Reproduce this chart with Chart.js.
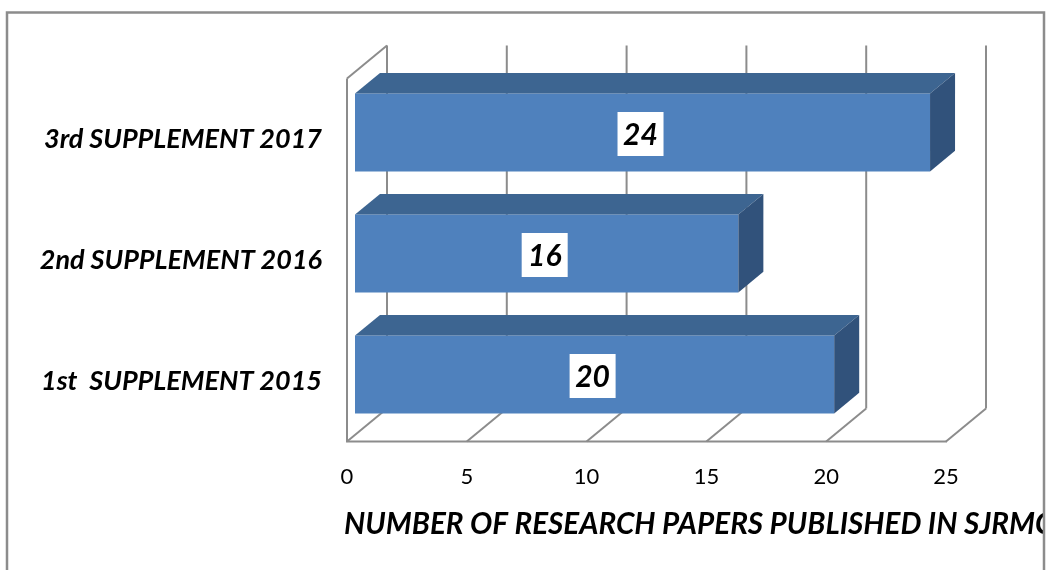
<!DOCTYPE html>
<html><head><meta charset="utf-8">
<script src="https://cdn.jsdelivr.net/npm/chart.js@4/dist/chart.umd.min.js"></script>
<style>html,body{margin:0;padding:0;background:#fff;overflow:hidden}</style>
</head><body>
<canvas id="c" width="1048" height="570" style="display:block"></canvas>
<script>
const categories = ['3rd SUPPLEMENT 2017', '2nd SUPPLEMENT 2016', '1st  SUPPLEMENT 2015'];
const papers = [24, 16, 20];
const tickValues = [0, 5, 10, 15, 20, 25];
const axisTitle = 'NUMBER OF RESEARCH PAPERS PUBLISHED IN SJRMC';

const FRONT = '#4F81BD', TOP = '#3D6591', SIDE = '#31527B', GRID = '#8C8C8C';
const D = {x: 40, y: -33};          // full depth of the 3D box
const BAR_FRONT = 0.2, BAR_BACK = 0.825; // depth positions (fraction of D)

function off(f) { return {x: D.x * (f - BAR_FRONT), y: D.y * (f - BAR_FRONT)}; }

const box3d = {
  id: 'box3d',
  beforeDatasetsDraw(chart) {
    const ctx = chart.ctx, xs = chart.scales.x, a = chart.chartArea;
    const fr = off(0), bk = off(1);
    ctx.save();
    ctx.strokeStyle = GRID; ctx.lineWidth = 2; ctx.lineCap = 'butt';
    const line = (x1, y1, x2, y2) => { ctx.beginPath(); ctx.moveTo(x1, y1); ctx.lineTo(x2, y2); ctx.stroke(); };
    tickValues.forEach(v => {
      const x = xs.getPixelForValue(v);
      line(x + bk.x, a.top + bk.y, x + bk.x, a.bottom + bk.y);       // back wall
      line(x + fr.x, a.bottom + fr.y, x + bk.x, a.bottom + bk.y);    // floor diagonal
    });
    const x0 = xs.getPixelForValue(tickValues[0]);
    const xN = xs.getPixelForValue(tickValues[tickValues.length - 1]);
    line(x0 + fr.x - 1, a.bottom + fr.y, xN + fr.x + 1, a.bottom + fr.y);   // front floor edge
    line(x0 + fr.x, a.bottom + fr.y, x0 + fr.x, a.top + fr.y);              // left wall front edge
    line(x0 + fr.x, a.top + fr.y, x0 + bk.x, a.top + bk.y);                 // left wall top edge
    ctx.restore();
  },
  afterDatasetsDraw(chart) {
    const ctx = chart.ctx, meta = chart.getDatasetMeta(0);
    const d = off(BAR_BACK);
    ctx.save();
    meta.data.forEach((bar, i) => {
      const p = bar.getProps(['x', 'y', 'base', 'height'], true);
      const t = p.y - p.height / 2, b = p.y + p.height / 2;
      ctx.fillStyle = TOP;
      ctx.beginPath();
      ctx.moveTo(p.base, t); ctx.lineTo(p.x, t); ctx.lineTo(p.x + d.x, t + d.y); ctx.lineTo(p.base + d.x, t + d.y);
      ctx.closePath(); ctx.fill();
      ctx.fillStyle = SIDE;
      ctx.beginPath();
      ctx.moveTo(p.x, t); ctx.lineTo(p.x + d.x, t + d.y); ctx.lineTo(p.x + d.x, b + d.y); ctx.lineTo(p.x, b);
      ctx.closePath(); ctx.fill();
      // value label
      const cx = (p.base + p.x) / 2 - 2, cy = p.y + 1.5;
      ctx.fillStyle = '#FFFFFF';
      ctx.fillRect(cx - 23, cy - 22, 46, 44);
      ctx.fillStyle = '#000';
      ctx.font = 'italic bold 30px Lato';
      ctx.textAlign = 'center'; ctx.textBaseline = 'middle';
      ctx.fillText(String(papers[i]), cx, cy + 1);
    });
    ctx.restore();
  },
  afterDraw(chart) {
    const ctx = chart.ctx;
    ctx.save();
    ctx.beginPath(); ctx.rect(0, 0, 1043, 570); ctx.clip();
    ctx.fillStyle = '#000';
    ctx.font = 'italic bold 29.6px Lato';
    ctx.textAlign = 'left'; ctx.textBaseline = 'middle';
    ctx.fillText(axisTitle, 344, 524);
    ctx.restore();
    ctx.save();
    ctx.strokeStyle = '#8C8C8C'; ctx.lineWidth = 2.5;
    ctx.beginPath();
    ctx.moveTo(7, 600); ctx.lineTo(7, 12.5); ctx.lineTo(1044, 12.5); ctx.lineTo(1044, 600);
    ctx.stroke();
    ctx.restore();
  }
};

new Chart(document.getElementById('c'), {
  type: 'bar',
  data: {
    labels: categories,
    datasets: [{
      data: papers,
      backgroundColor: FRONT,
      borderWidth: 0,
      categoryPercentage: 0.8,
      barPercentage: 0.805
    }]
  },
  options: {
    indexAxis: 'y',
    responsive: false,
    animation: false,
    events: [],
    layout: {padding: {top: 72, right: 94, left: 0, bottom: 0}},
    plugins: {legend: {display: false}, tooltip: {enabled: false}},
    scales: {
      x: {
        min: 0, max: 25,
        afterBuildTicks: s => { s.ticks = tickValues.map(v => ({value: v})); },
        afterFit: s => { s.height = 135; },
        border: {display: false},
        grid: {display: false, drawTicks: false},
        ticks: {color: '#000', font: {family: 'Lato', size: 22}, padding: 29, labelOffset: -8, maxRotation: 0}
      },
      y: {
        afterFit: s => { s.width = 355; },
        border: {display: false},
        grid: {display: false, drawTicks: false},
        ticks: {color: '#000', font: {family: 'Lato', size: 27, style: 'italic', weight: 'bold'}, padding: 33, labelOffset: 7}
      }
    }
  },
  plugins: [box3d]
});
</script>
</body></html>
